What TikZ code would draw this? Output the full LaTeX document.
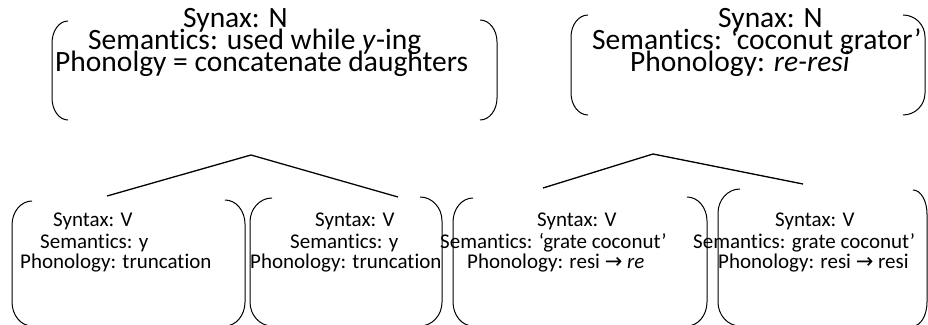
\documentclass[tikz,border=0pt]{standalone}
\usepackage{fontspec}
\setmainfont{Carlito}[Ligatures={NoCommon,NoContextual,NoRare}]
\newfontfamily\arrowfont{DejaVu Sans}
\newcommand{\LBr}[5]{\draw[brk] (#1,#2) arc[start angle=90,end angle=180,x radius=#4pt,y radius=#5pt] -- (#1-#4,#3+#5) arc[start angle=180,end angle=270,x radius=#4pt,y radius=#5pt];}
\newcommand{\RBr}[5]{\draw[brk] (#1,#2) arc[start angle=90,end angle=0,x radius=#4pt,y radius=#5pt] -- (#1+#4,#3+#5) arc[start angle=0,end angle=-90,x radius=#4pt,y radius=#5pt];}
\newcommand{\arr}{{\arrowfont →}}
\tikzset{
  brk/.style={draw=black,line width=1pt},
  tree/.style={draw=black,line width=1.3pt},
  big/.style={anchor=base west,inner sep=0pt,font=\fontsize{29.5}{22}\selectfont},
  small/.style={anchor=base west,inner sep=0pt,font=\fontsize{21}{20}\selectfont}
}
\begin{document}
\begin{tikzpicture}[x=1pt,y=1pt]
\fill[white] (0,0) rectangle (928,324);
\useasboundingbox (0,0) rectangle (928,324);
% top-left box
\LBr{68}{303}{204}{16}{22}
\RBr{480}{304}{204}{17}{22}
\node[big] (tl1) at (183,296) {Synax: N};
\node[big] (tl2) at (88,274) {Semantics: used while \textit{y}-ing};
\node[big] (tl3) at (55,252) {Phonolgy = concatenate daughters};
% top-right box
\LBr{588}{309}{209}{17}{22}
\RBr{903}{309}{209}{22}{22}
\node[big] (tr1) at (718,296) {Synax: N};
\node[big] (tr2) at (592,274) {Semantics: ‘coconut grator’};
\node[big] (tr3) at (630,252) {Phonology: \textit{re-resi}};
% tree lines
\coordinate (apexL) at (251,169);
\coordinate (legL1) at (107,128);
\coordinate (legL2) at (398,127);
\coordinate (apexR) at (653,170);
\coordinate (legR1) at (543,136);
\coordinate (legR2) at (803,140);
\draw[tree] (legL1) -- (apexL) -- (legL2);
\draw[tree] (legR1) -- (apexR) -- (legR2);
% bottom box 1
\LBr{32}{123}{-2}{20}{24}
\RBr{225}{124}{-2}{20}{24}
\node[small] (b11) at (53,97) {Syntax: V};
\node[small] (b12) at (40,76) {Semantics: y};
\node[small] (b13) at (20,56) {Phonology: truncation};
% bottom box 2
\LBr{272}{126}{-2}{22}{24}
\RBr{420}{127}{-2}{22}{24}
\node[small] (b21) at (315,97) {Syntax: V};
\node[small] (b22) at (290,76) {Semantics: y};
\node[small] (b23) at (250,56) {Phonology: truncation};
% bottom box 3
\LBr{473}{126}{-2}{20}{24}
\RBr{687}{127}{-2}{20}{24}
\node[small] (b31) at (537,97) {Syntax: V};
\node[small] (b32) at (440,76) {Semantics: ‘grate coconut’};
\node[small] (b33) at (467,56) {Phonology: resi \arr{} \textit{re}};
% bottom box 4
\LBr{740}{135}{-2}{22}{24}
\RBr{913}{134}{-2}{14}{24}
\node[small] (b41) at (775,97) {Syntax: V};
\node[small] (b42) at (693,76) {Semantics: grate coconut’};
\node[small] (b43) at (718,56) {Phonology: resi \arr{} resi};
\end{tikzpicture}
\end{document}
